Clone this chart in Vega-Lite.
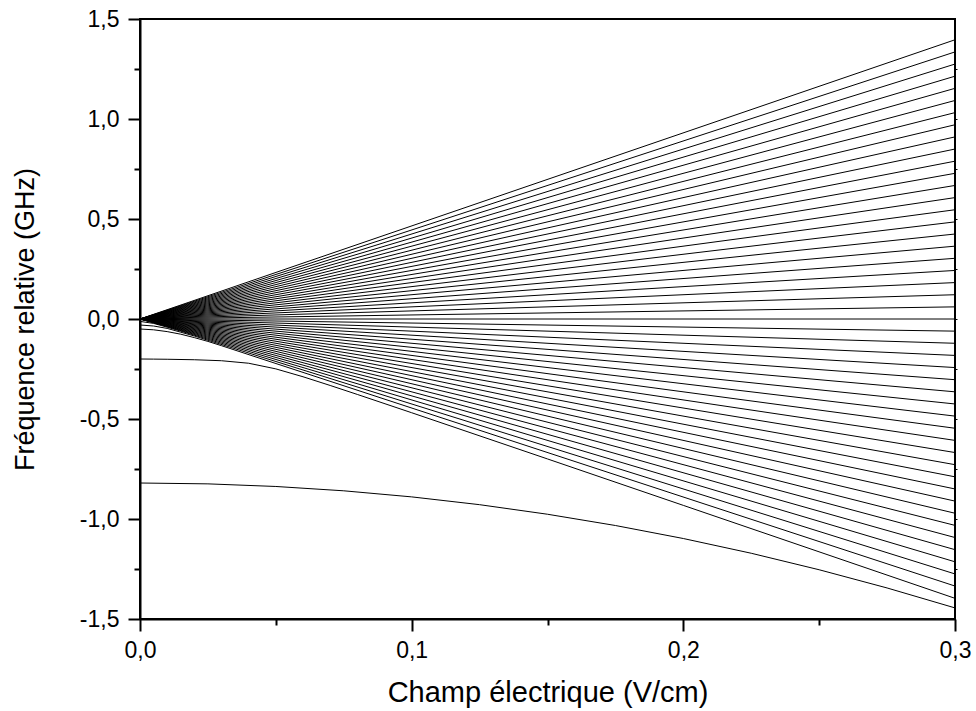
{
  "$schema": "https://vega.github.io/schema/vega-lite/v6.json",
  "width": 815,
  "height": 600,
  "autosize": {"type": "none"},
  "padding": {"left": 140, "top": 19, "right": 21, "bottom": 92},
  "background": "white",
  "config": {
    "view": {"stroke": "black", "strokeWidth": 2},
    "axis": {
      "grid": false,
      "domainColor": "black",
      "domainWidth": 2,
      "tickColor": "black",
      "tickWidth": 2,
      "labelColor": "black",
      "titleColor": "black",
      "labelFont": "Liberation Sans",
      "titleFont": "Liberation Sans",
      "titleFontWeight": "normal"
    }
  },
  "data": {
    "values": [
      {"g":"fan","s":23,"x":0,"y":0},{"g":"fan","s":23,"x":0.3,"y":1.3961},
      {"g":"fan","s":22,"x":0,"y":0},{"g":"fan","s":22,"x":0.3,"y":1.3354},
      {"g":"fan","s":21,"x":0,"y":0},{"g":"fan","s":21,"x":0.3,"y":1.2747},
      {"g":"fan","s":20,"x":0,"y":0},{"g":"fan","s":20,"x":0.3,"y":1.214},
      {"g":"fan","s":19,"x":0,"y":0},{"g":"fan","s":19,"x":0.3,"y":1.1533},
      {"g":"fan","s":18,"x":0,"y":0},{"g":"fan","s":18,"x":0.3,"y":1.0926},
      {"g":"fan","s":17,"x":0,"y":0},{"g":"fan","s":17,"x":0.3,"y":1.0319},
      {"g":"fan","s":16,"x":0,"y":0},{"g":"fan","s":16,"x":0.3,"y":0.9712},
      {"g":"fan","s":15,"x":0,"y":0},{"g":"fan","s":15,"x":0.3,"y":0.9105},
      {"g":"fan","s":14,"x":0,"y":0},{"g":"fan","s":14,"x":0.3,"y":0.8498},
      {"g":"fan","s":13,"x":0,"y":0},{"g":"fan","s":13,"x":0.3,"y":0.7891},
      {"g":"fan","s":12,"x":0,"y":0},{"g":"fan","s":12,"x":0.3,"y":0.7284},
      {"g":"fan","s":11,"x":0,"y":0},{"g":"fan","s":11,"x":0.3,"y":0.6677},
      {"g":"fan","s":10,"x":0,"y":0},{"g":"fan","s":10,"x":0.3,"y":0.607},
      {"g":"fan","s":9,"x":0,"y":0},{"g":"fan","s":9,"x":0.3,"y":0.5463},
      {"g":"fan","s":8,"x":0,"y":0},{"g":"fan","s":8,"x":0.3,"y":0.4856},
      {"g":"fan","s":7,"x":0,"y":0},{"g":"fan","s":7,"x":0.3,"y":0.4249},
      {"g":"fan","s":6,"x":0,"y":0},{"g":"fan","s":6,"x":0.3,"y":0.3642},
      {"g":"fan","s":5,"x":0,"y":0},{"g":"fan","s":5,"x":0.3,"y":0.3035},
      {"g":"fan","s":4,"x":0,"y":0},{"g":"fan","s":4,"x":0.3,"y":0.2428},
      {"g":"fan","s":3,"x":0,"y":0},{"g":"fan","s":3,"x":0.3,"y":0.1821},
      {"g":"fan","s":2,"x":0,"y":0},{"g":"fan","s":2,"x":0.3,"y":0.1214},
      {"g":"fan","s":1,"x":0,"y":0},{"g":"fan","s":1,"x":0.3,"y":0.0607},
      {"g":"fan","s":0,"x":0,"y":0},{"g":"fan","s":0,"x":0.3,"y":0},
      {"g":"fan","s":-1,"x":0,"y":0},{"g":"fan","s":-1,"x":0.3,"y":-0.0607},
      {"g":"fan","s":-2,"x":0,"y":0},{"g":"fan","s":-2,"x":0.3,"y":-0.1214},
      {"g":"fan","s":-3,"x":0,"y":0},{"g":"fan","s":-3,"x":0.3,"y":-0.1821},
      {"g":"fan","s":-4,"x":0,"y":0},{"g":"fan","s":-4,"x":0.3,"y":-0.2428},
      {"g":"fan","s":-5,"x":0,"y":0},{"g":"fan","s":-5,"x":0.3,"y":-0.3035},
      {"g":"fan","s":-6,"x":0,"y":0},{"g":"fan","s":-6,"x":0.3,"y":-0.3642},
      {"g":"fan","s":-7,"x":0,"y":0},{"g":"fan","s":-7,"x":0.3,"y":-0.4249},
      {"g":"fan","s":-8,"x":0,"y":0},{"g":"fan","s":-8,"x":0.3,"y":-0.4856},
      {"g":"fan","s":-9,"x":0,"y":0},{"g":"fan","s":-9,"x":0.3,"y":-0.5463},
      {"g":"fan","s":-10,"x":0,"y":0},{"g":"fan","s":-10,"x":0.3,"y":-0.607},
      {"g":"fan","s":-11,"x":0,"y":0},{"g":"fan","s":-11,"x":0.3,"y":-0.6677},
      {"g":"fan","s":-12,"x":0,"y":0},{"g":"fan","s":-12,"x":0.3,"y":-0.7284},
      {"g":"fan","s":-13,"x":0,"y":0},{"g":"fan","s":-13,"x":0.3,"y":-0.7891},
      {"g":"fan","s":-14,"x":0,"y":0},{"g":"fan","s":-14,"x":0.3,"y":-0.8498},
      {"g":"fan","s":-15,"x":0,"y":0},{"g":"fan","s":-15,"x":0.3,"y":-0.9105},
      {"g":"fan","s":-16,"x":0,"y":0},{"g":"fan","s":-16,"x":0.3,"y":-0.9712},
      {"g":"fan","s":-17,"x":0,"y":0},{"g":"fan","s":-17,"x":0.3,"y":-1.0319},
      {"g":"fan","s":-18,"x":0,"y":0},{"g":"fan","s":-18,"x":0.3,"y":-1.0926},
      {"g":"fan","s":-19,"x":0,"y":0},{"g":"fan","s":-19,"x":0.3,"y":-1.1533},
      {"g":"fan","s":-20,"x":0,"y":-0.012},{"g":"fan","s":-20,"x":0.005,"y":-0.022},{"g":"fan","s":-20,"x":0.01,"y":-0.041},{"g":"fan","s":-20,"x":0.015,"y":-0.0607},{"g":"fan","s":-20,"x":0.3,"y":-1.214},
      {"g":"fan","s":-21,"x":0,"y":-0.03},{"g":"fan","s":-21,"x":0.005,"y":-0.035},{"g":"fan","s":-21,"x":0.01,"y":-0.047},{"g":"fan","s":-21,"x":0.015,"y":-0.066},{"g":"fan","s":-21,"x":0.02,"y":-0.085},{"g":"fan","s":-21,"x":0.3,"y":-1.2747},
      {"g":"fan","s":-22,"x":0,"y":-0.05},{"g":"fan","s":-22,"x":0.005,"y":-0.054},{"g":"fan","s":-22,"x":0.01,"y":-0.063},{"g":"fan","s":-22,"x":0.015,"y":-0.076},{"g":"fan","s":-22,"x":0.02,"y":-0.093},{"g":"fan","s":-22,"x":0.025,"y":-0.112},{"g":"fan","s":-22,"x":0.03,"y":-0.1335},{"g":"fan","s":-22,"x":0.3,"y":-1.3353},
      {"g":"p","s":-23,"x":0,"y":-0.2},{"g":"p","s":-23,"x":0.005,"y":-0.2006},{"g":"p","s":-23,"x":0.01,"y":-0.2013},{"g":"p","s":-23,"x":0.02,"y":-0.2037},{"g":"p","s":-23,"x":0.03,"y":-0.2086},{"g":"p","s":-23,"x":0.04,"y":-0.2212},{"g":"p","s":-23,"x":0.05,"y":-0.2494},{"g":"p","s":-23,"x":0.06,"y":-0.2888},{"g":"p","s":-23,"x":0.07,"y":-0.3323},{"g":"p","s":-23,"x":0.08,"y":-0.3772},{"g":"p","s":-23,"x":0.1,"y":-0.4686},{"g":"p","s":-23,"x":0.15,"y":-0.6997},{"g":"p","s":-23,"x":0.2,"y":-0.9319},{"g":"p","s":-23,"x":0.3,"y":-1.3966},
      {"g":"s","s":-24,"x":0,"y":-0.82},{"g":"s","s":-24,"x":0.025,"y":-0.8243},{"g":"s","s":-24,"x":0.05,"y":-0.8374},{"g":"s","s":-24,"x":0.075,"y":-0.859},{"g":"s","s":-24,"x":0.1,"y":-0.8894},{"g":"s","s":-24,"x":0.125,"y":-0.9284},{"g":"s","s":-24,"x":0.15,"y":-0.9762},{"g":"s","s":-24,"x":0.175,"y":-1.0325},{"g":"s","s":-24,"x":0.2,"y":-1.0976},{"g":"s","s":-24,"x":0.225,"y":-1.1713},{"g":"s","s":-24,"x":0.25,"y":-1.2538},{"g":"s","s":-24,"x":0.275,"y":-1.3448},{"g":"s","s":-24,"x":0.3,"y":-1.4446}
    ]
  },
  "resolve": {"axis": {"x": "independent", "y": "independent"}},
  "layer": [
    {
      "transform": [{"filter": "datum.g == 'fan'"}],
      "mark": {"type": "line", "stroke": "black", "strokeWidth": 1},
      "encoding": {
        "x": {
          "field": "x", "type": "quantitative",
          "scale": {"domain": [0, 0.3], "nice": false, "zero": false},
          "axis": {
            "orient": "bottom",
            "values": [0, 0.1, 0.2, 0.3],
            "labelExpr": "replace(replace(format(datum.value, '.1f'), '.', ','), '\u2212', '-')",
            "tickSize": 12,
            "labelPadding": 8,
            "labelFontSize": 23,
            "labelFlush": false,
            "title": "Champ électrique (V/cm)",
            "titleFontSize": 29,
            "titleY": 82,
            "titleBaseline": "alphabetic"
          }
        },
        "y": {
          "field": "y", "type": "quantitative",
          "scale": {"domain": [-1.5, 1.5], "nice": false, "zero": false},
          "axis": {
            "orient": "left",
            "values": [-1.5, -1, -0.5, 0, 0.5, 1, 1.5],
            "labelExpr": "replace(replace(format(datum.value, '.1f'), '.', ','), '\u2212', '-')",
            "tickSize": 12,
            "labelPadding": 9,
            "labelFontSize": 23,
            "labelFlush": false,
            "title": "Fréquence relative (GHz)",
            "titleFontSize": 27,
            "titleX": -107,
            "titleBaseline": "alphabetic"
          }
        },
        "detail": {"field": "s", "type": "nominal"}
      }
    },
    {
      "transform": [{"filter": "datum.g == 'p'"}],
      "mark": {"type": "line", "stroke": "black", "strokeWidth": 1},
      "encoding": {
        "x": {
          "field": "x", "type": "quantitative",
          "scale": {"domain": [0, 0.3], "nice": false, "zero": false},
          "axis": {"orient": "bottom", "values": [0.05, 0.15, 0.25], "labels": false, "domain": false, "tickSize": 6, "title": null}
        },
        "y": {
          "field": "y", "type": "quantitative",
          "scale": {"domain": [-1.5, 1.5], "nice": false, "zero": false},
          "axis": {"orient": "left", "values": [-1.25, -0.75, -0.25, 0.25, 0.75, 1.25], "labels": false, "domain": false, "tickSize": 6, "title": null}
        },
        "detail": {"field": "s", "type": "nominal"}
      }
    },
    {
      "transform": [{"filter": "datum.g == 's'"}],
      "mark": {"type": "line", "stroke": "black", "strokeWidth": 1},
      "encoding": {
        "x": {
          "field": "x", "type": "quantitative",
          "scale": {"domain": [0, 0.3], "nice": false, "zero": false},
          "axis": null
        },
        "y": {
          "field": "y", "type": "quantitative",
          "scale": {"domain": [-1.5, 1.5], "nice": false, "zero": false},
          "axis": {"orient": "right", "values": [-1.25, -1, -0.75, -0.5, -0.25, 0, 0.25, 0.5, 0.75, 1, 1.25], "labels": false, "domain": false, "tickSize": 2, "tickWidth": 1, "title": null}
        },
        "detail": {"field": "s", "type": "nominal"}
      }
    }
  ]
}
